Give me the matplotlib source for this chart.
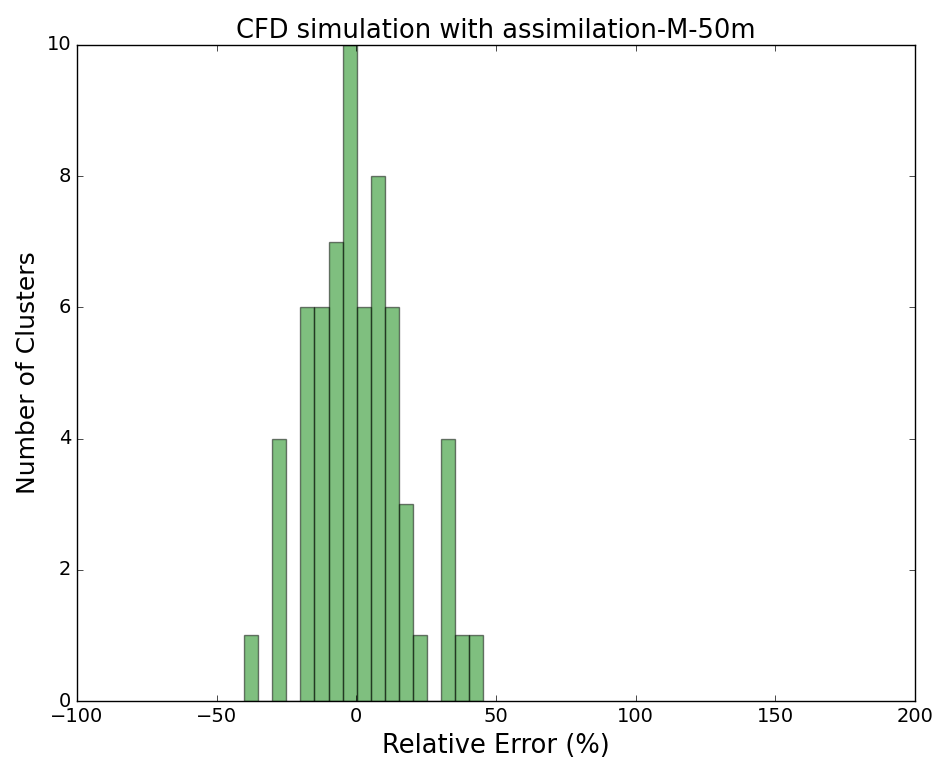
import matplotlib
matplotlib.use("Agg")
import matplotlib.pyplot as plt
import numpy as np

bin_start = -40.2
bin_width = 5.04
counts = [1, 0, 4, 0, 6, 6, 7, 10, 6, 8, 6, 3, 1, 0, 4, 1, 1]

edges = bin_start + bin_width * np.arange(len(counts) + 1)
centers = (edges[:-1] + edges[1:]) / 2

plt.style.use("classic")
fig = plt.figure(figsize=(9.39, 7.6), dpi=100)
ax = fig.add_axes([0.082, 0.0776, 0.8925, 0.8634])
ax.hist(centers, bins=edges, weights=counts, color="green", alpha=0.5,
        edgecolor="black", linewidth=1.0)
ax.set_xlim(-100, 200)
ax.set_ylim(0, 10)
ax.set_xticks([-100, -50, 0, 50, 100, 150, 200])
ax.set_yticks([0, 2, 4, 6, 8, 10])
ax.tick_params(labelsize=14)
ax.set_title("CFD simulation with assimilation-M-50m", fontsize=18.5)
ax.set_xlabel("Relative Error (%)", fontsize=18.5)
ax.set_ylabel("Number of Clusters", fontsize=18)
fig.savefig("out.png", dpi=100)
